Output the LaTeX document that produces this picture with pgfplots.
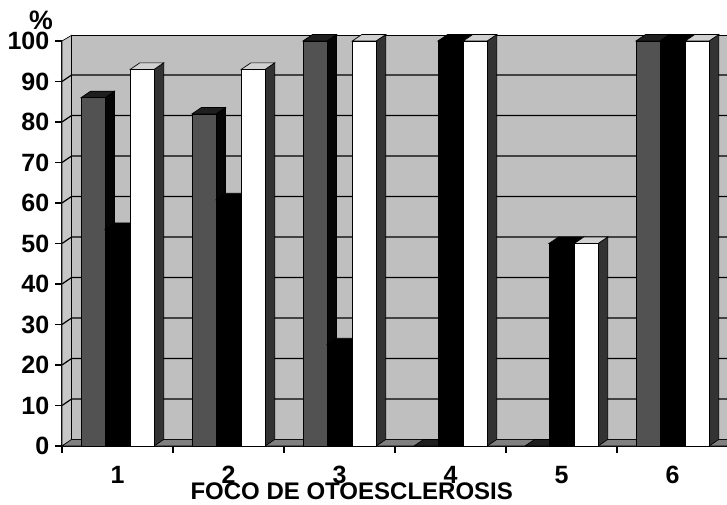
\documentclass[border=0pt]{standalone}
\usepackage{pgfplots}
\usepackage{fontspec}
\setmainfont{Liberation Sans}
\pgfplotsset{compat=1.18}
\definecolor{wallc}{gray}{0.75}
\definecolor{sidewall}{gray}{0.78}
\definecolor{floorc}{gray}{0.5}
\definecolor{darkb}{gray}{0.32}
\definecolor{darkt}{gray}{0.12}
\definecolor{darks}{gray}{0.02}
\definecolor{blackb}{gray}{0.0}
\definecolor{whiteb}{gray}{1.0}
\definecolor{whitet}{gray}{0.82}
\definecolor{whites}{gray}{0.2}
\newcommand{\dx}{0.086}
\newcommand{\dy}{1.6}
% \tdbar{x0}{x1}{value}{front}{top}{side}
\newcommand{\tdbar}[6]{%
  \pgfmathsetmacro{\xa}{#1}\pgfmathsetmacro{\xb}{#2}%
  \pgfmathsetmacro{\xc}{#2+\dx}\pgfmathsetmacro{\xd}{#1+\dx}%
  \pgfmathsetmacro{\yb}{#3+\dy}%
  \edef\tmp{%
  \noexpand\addplot[fill=#6,draw=black,line width=0.5pt,forget plot] coordinates {(\xb,0) (\xc,\dy) (\xc,\yb) (\xb,#3)} --cycle;
  \noexpand\addplot[fill=#5,draw=black,line width=0.5pt,forget plot] coordinates {(\xa,#3) (\xb,#3) (\xc,\yb) (\xd,\yb)} --cycle;
  \noexpand\addplot[fill=#4,draw=black,line width=0.5pt,forget plot] coordinates {(\xa,0) (\xb,0) (\xb,#3) (\xa,#3)} --cycle;
  }\tmp}
% group: tick position, three values
\newcommand{\group}[4]{%
  \pgfmathsetmacro{\pa}{#1+0.171}\pgfmathsetmacro{\pb}{#1+0.387}%
  \pgfmathsetmacro{\pc}{#1+0.615}\pgfmathsetmacro{\pd}{#1+0.83}%
  \edef\grp{\noexpand\tdbar{\pa}{\pb}{#2}{darkb}{darkt}{darks}%
  \noexpand\tdbar{\pb}{\pc}{#3}{blackb}{black}{black}%
  \noexpand\tdbar{\pc}{\pd}{#4}{whiteb}{whitet}{whites}}\grp}
\begin{document}
\begin{tikzpicture}
\path[use as bounding box] (-46.5pt,-43.5pt) rectangle (498.75pt,334.5pt);
\begin{axis}[
  at={(0,0)}, anchor=south west,
  scale only axis, width=499.5pt, height=303.75pt,
  xmin=0, xmax=6, ymin=0, ymax=100,
  axis x line*=bottom, axis y line*=left,
  axis line style={line width=1pt,-},
  clip=false,
  ytick={0,10,...,100},
  xtick={0.5,1.5,2.5,3.5,4.5,5.5},
  xticklabels={1,2,3,4,5,6},
  minor xtick={0,1,2,3,4,5,6},
  major tick length=5pt,
  minor tick length=5pt,
  ytick style={line width=1pt,draw=black},
  xtick style={draw=none},
  minor x tick style={line width=1pt,draw=black},
  xticklabel style={font=\fontsize{18.75}{18.75}\bfseries, yshift=-6.5pt},
  yticklabel style={font=\fontsize{18.75}{18.75}\bfseries, xshift=-1pt},
  /pgf/number format/assume math mode=true,
  xlabel={FOCO DE OTOESCLEROSIS},
  xlabel style={font=\fontsize{18}{18}\bfseries, at={(axis description cs:0.435,0)}, anchor=center, yshift=-33.75pt},
  tick align=outside,
]
% back wall and side wall and floor
\addplot[fill=sidewall,draw=black,line width=0.5pt,forget plot] coordinates {(0,0) (0.086,1.6) (0.086,101.4) (0,100)} --cycle;
\addplot[fill=wallc,draw=black,line width=0.7pt,forget plot] coordinates {(0.086,1.6) (6.02,1.6) (6.02,101.4) (0.086,101.4)} --cycle;
\addplot[fill=floorc,draw=black,line width=0.4pt,forget plot] coordinates {(0,0) (6.02,0) (6.02,1.6) (0.086,1.6)} --cycle;
% gridlines
\pgfplotsinvokeforeach{10,20,30,40,50,60,70,80,90}{
  \pgfmathsetmacro{\yy}{#1+1.6}
  \edef\tmpg{\noexpand\addplot[black,line width=0.9pt,forget plot] coordinates {(0,#1) (0.086,\yy) (6.02,\yy)};}
  \tmpg
}
\group{0}{86}{53.5}{93}
\group{1}{82}{60.8}{93}
\group{2}{100}{25}{100}
\group{3}{0}{100}{100}
\group{4}{0}{50}{50}
\group{5}{100}{100}{100}
\node[font=\fontsize{20}{20}\bfseries, anchor=center] at (axis cs:-0.19,105.2) {\%};
\end{axis}
\end{tikzpicture}
\end{document}
